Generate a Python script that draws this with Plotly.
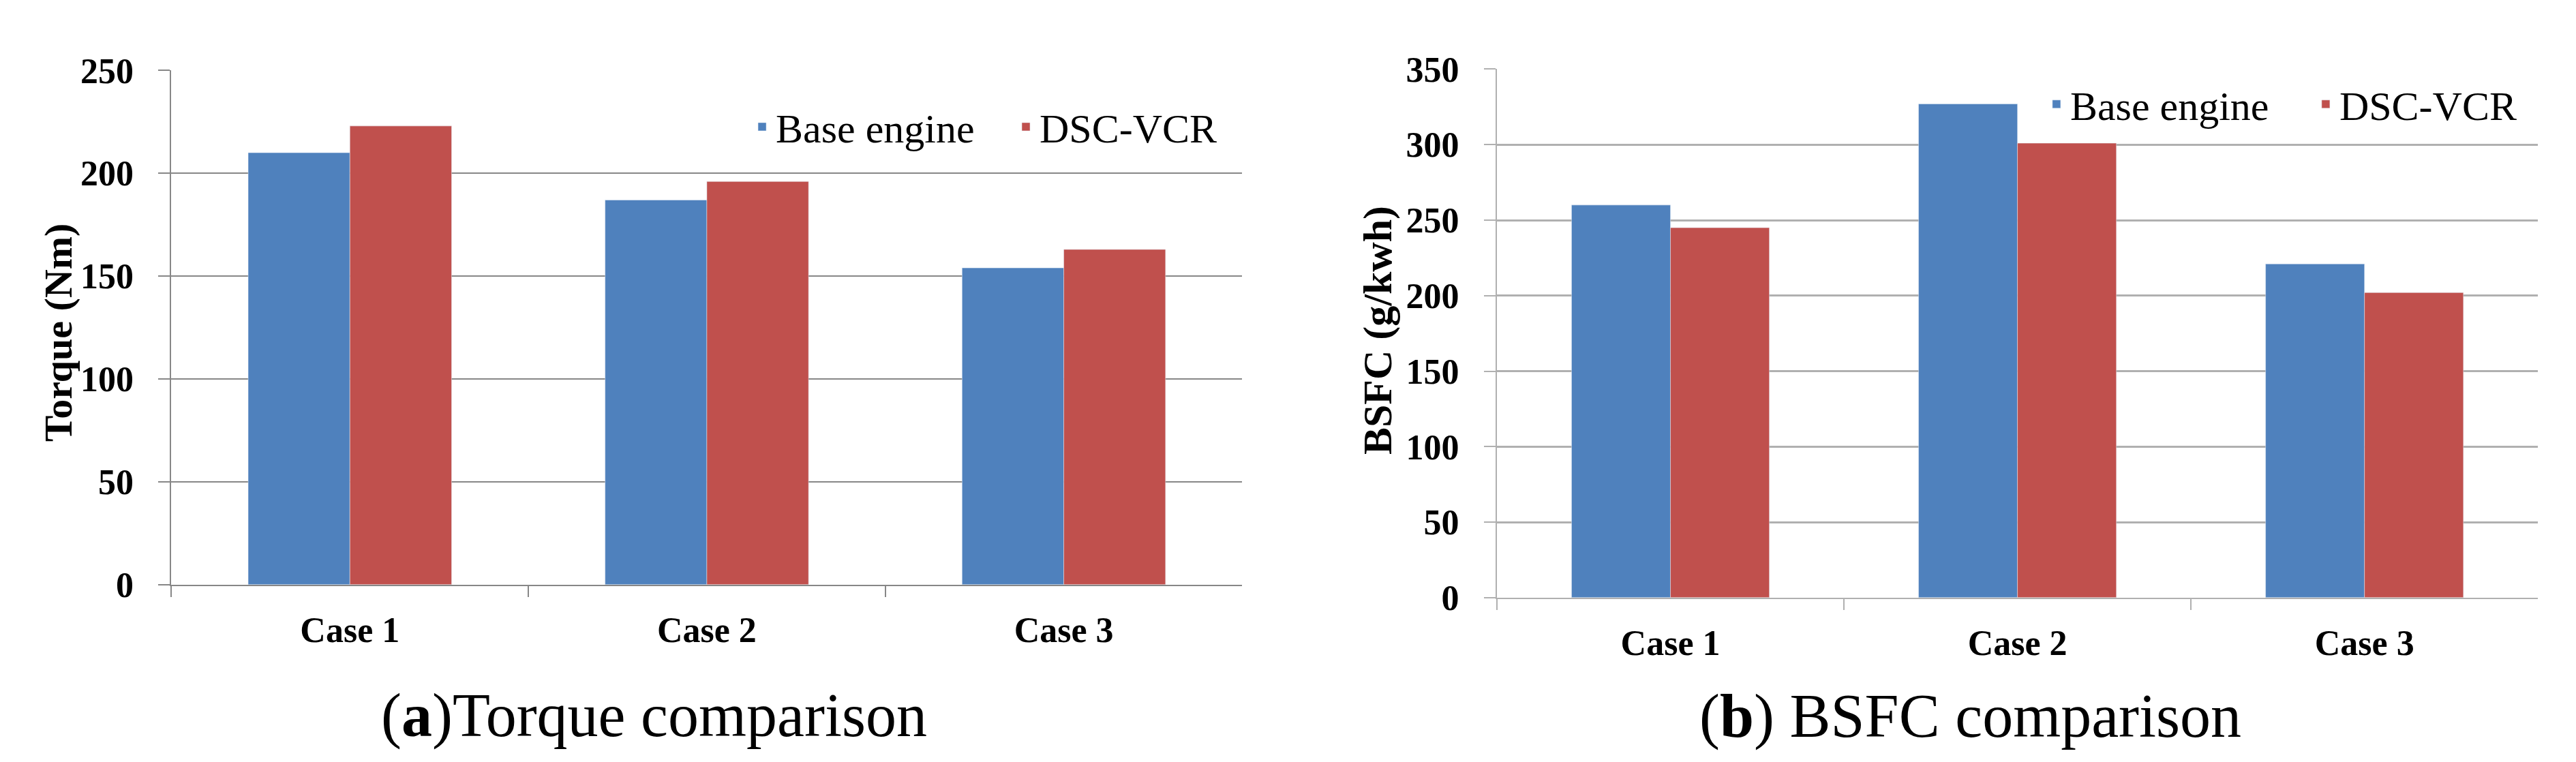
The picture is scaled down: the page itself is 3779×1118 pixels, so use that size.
import plotly.graph_objects as go

# ---- data ----
categories = ["Case 1", "Case 2", "Case 3"]
torque_base = [210, 187, 154]
torque_dsc = [223, 196, 163]
bsfc_base = [260, 327, 221]
bsfc_dsc = [245, 301, 202]
torque_ticks = [0, 50, 100, 150, 200, 250]
bsfc_ticks = [0, 50, 100, 150, 200, 250, 300, 350]
series_names = ["Base engine", "DSC-VCR"]
y_titles = ["Torque (Nm)", "BSFC (g/kwh)"]
captions = ["(<b>a</b>)Torque comparison", "(<b>b</b>) BSFC comparison"]

BLUE = "#4F81BD"
RED = "#C0504D"
SERIF = "Liberation Serif"
W, H = 3779, 1118

fig = go.Figure()
fig.add_trace(go.Bar(x=categories, y=torque_base, name=series_names[0],
                     marker_color=BLUE, xaxis="x", yaxis="y", legend="legend"))
fig.add_trace(go.Bar(x=categories, y=torque_dsc, name=series_names[1],
                     marker_color=RED, xaxis="x", yaxis="y", legend="legend"))
fig.add_trace(go.Bar(x=categories, y=bsfc_base, name=series_names[0],
                     marker_color=BLUE, xaxis="x2", yaxis="y2", legend="legend2"))
fig.add_trace(go.Bar(x=categories, y=bsfc_dsc, name=series_names[1],
                     marker_color=RED, xaxis="x2", yaxis="y2", legend="legend2"))

tickfont = dict(family=SERIF, size=52, color="black", weight="bold")


def xaxis_cfg(domain, anchor, col):
    return dict(domain=domain, anchor=anchor, type="category", range=[-0.5, 2.5],
                showline=True, linecolor=col, linewidth=2, showgrid=False,
                ticks="outside", tickson="boundaries", ticklen=16, tickwidth=2, tickcolor=col,
                tickfont=tickfont, ticklabelstandoff=20, fixedrange=True)


def yaxis_cfg(domain, anchor, rng, ticks, col, gw):
    return dict(domain=domain, anchor=anchor, range=rng, tickvals=ticks,
                showline=True, linecolor=col, linewidth=2, showgrid=True, gridcolor=col,
                gridwidth=gw, zeroline=False, ticks="outside", ticklen=17, tickwidth=2,
                tickcolor=col, tickfont=tickfont, ticklabelstandoff=26, fixedrange=True)


LEFT_COL = "#878787"
RIGHT_COL = "#b0b0b0"
legend_font = dict(family=SERIF, size=60, color="black")

fig.update_layout(
    width=W, height=H,
    font=dict(family=SERIF, color="black"),
    margin=dict(l=0, r=0, t=0, b=0),
    paper_bgcolor="white", plot_bgcolor="white",
    barmode="group", bargap=0.43, bargroupgap=0,
    xaxis=xaxis_cfg([245 / W, 1826 / W], "y", LEFT_COL),
    yaxis=yaxis_cfg([1 - 866 / H, 1 - 71 / H], "x", [0, 250], torque_ticks, LEFT_COL, 2),
    xaxis2=xaxis_cfg([2202 / W, 3739 / W], "y2", RIGHT_COL),
    yaxis2=yaxis_cfg([1 - 886 / H, 1 - 69 / H], "x2", [0, 350], bsfc_ticks, RIGHT_COL, 3),
    legend=dict(orientation="h", x=1097 / W, y=1 - 158 / H, xanchor="left", yanchor="middle",
                font=legend_font, bgcolor="rgba(0,0,0,0)",
                entrywidth=342, itemclick=False, itemdoubleclick=False),
    legend2=dict(orientation="h", x=3008 / W, y=1 - 123 / H, xanchor="left", yanchor="middle",
                 font=legend_font, bgcolor="rgba(0,0,0,0)",
                 entrywidth=350, itemclick=False, itemdoubleclick=False),
    annotations=[
        dict(text=y_titles[0], x=78 / W, y=1 - 476 / H, xref="paper", yref="paper",
             textangle=-90, xanchor="center", yanchor="middle", showarrow=False,
             font=dict(family=SERIF, size=58, color="black", weight="bold")),
        dict(text=y_titles[1], x=2026 / W, y=1 - 473 / H, xref="paper", yref="paper",
             textangle=-90, xanchor="center", yanchor="middle", showarrow=False,
             font=dict(family=SERIF, size=60, color="black", weight="bold")),
        dict(text=captions[0], x=958 / W, y=1 - 1068 / H, xref="paper", yref="paper",
             xanchor="center", yanchor="middle", showarrow=False,
             font=dict(family=SERIF, size=90, color="black")),
        dict(text=captions[1], x=2901 / W, y=1 - 1070 / H, xref="paper", yref="paper",
             xanchor="center", yanchor="middle", showarrow=False,
             font=dict(family=SERIF, size=90, color="black")),
    ],
)

fig.write_html("out.html", config={"displayModeBar": False})
